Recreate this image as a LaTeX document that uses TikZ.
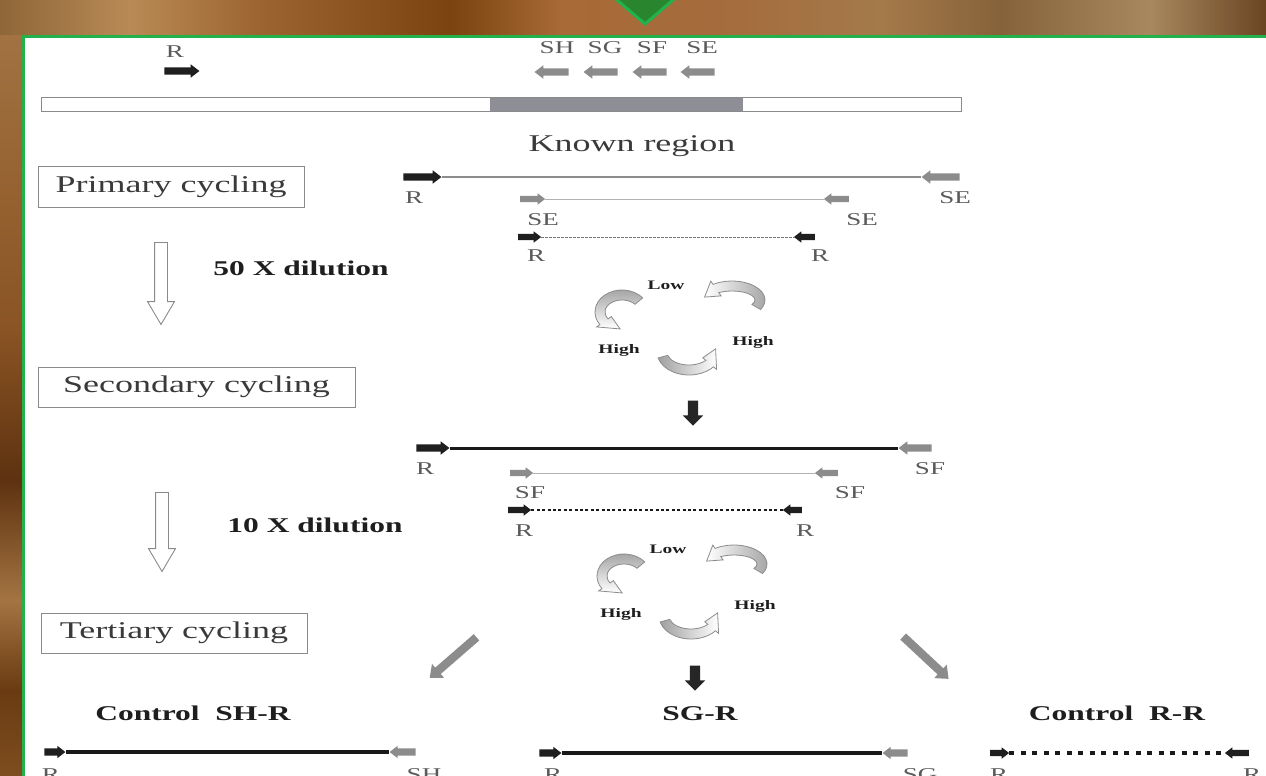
\documentclass[tikz,border=0pt]{standalone}
\usepackage{fontspec}
\setmainfont{Liberation Serif}[FakeStretch=1.5]
\usetikzlibrary{shapes.arrows,calc}

\definecolor{framegreen}{HTML}{22B24C}
\definecolor{tabgreen}{HTML}{2A862E}
\definecolor{primergray}{HTML}{8C8C8C}
\definecolor{tailgray}{HTML}{A0A0A0}
\definecolor{labelgray}{HTML}{5A5A5A}
\definecolor{inkdark}{HTML}{1E1E1E}
\definecolor{boxink}{HTML}{3A3A3A}
\definecolor{boxline}{HTML}{8A8A8A}
\definecolor{regiongray}{HTML}{8E8E97}

\tikzset{
  primer/.style={single arrow, draw=none, inner xsep=0pt, inner ysep=3.5pt, minimum width=13pt,
    single arrow head extend=3pt, single arrow tip angle=75},
  smallprimer/.style={primer, inner ysep=3pt, minimum width=11pt, single arrow head extend=2.5pt},
  heavyprimer/.style={primer, inner ysep=3.5pt, minimum width=12pt, single arrow head extend=2.5pt},
  kprimer/.style={fill=black!88},
  gprimer/.style={fill=primergray},
  toleft/.style={rotate=180},
  lbl/.style={font=\fontsize{18}{20}\selectfont, text=labelgray, inner sep=0pt, anchor=base},
  cycbox/.style={draw=boxline, line width=0.9pt, inner sep=0pt,
    font=\fontsize{24}{28}\selectfont, text=boxink},
  boldlbl/.style={font=\bfseries\fontsize{21}{24}\selectfont, text=inkdark, inner sep=0pt, anchor=base},
  phase/.style={font=\bfseries\fontsize{13}{14}\selectfont, text=inkdark, inner sep=0pt, anchor=base},
  hollowdown/.style={single arrow, draw=boxline, fill=white, line width=0.9pt, inner xsep=0pt,
    inner ysep=6pt, rotate=-90, minimum height=82pt, minimum width=26pt,
    single arrow head extend=7pt, single arrow tip angle=61},
  blackdown/.style={single arrow, fill=black!85, inner xsep=0pt, inner ysep=5pt, rotate=-90,
    minimum height=25pt, minimum width=20pt, single arrow head extend=5pt, single arrow tip angle=90},
  branch/.style={single arrow, fill=primergray, inner xsep=0pt, inner ysep=4pt, minimum height=62pt,
    minimum width=18pt, single arrow head extend=5pt, single arrow tip angle=80},
  dnathin/.style={draw=black!45, line width=1.2pt},
  dnafaint/.style={draw=black!30, line width=1pt},
  dnadash/.style={draw=black!55, line width=1pt, dash pattern=on 2.5pt off 1.5pt},
  dnabold/.style={draw=black!90, line width=3pt},
  dnadot/.style={draw=black!90, line width=1.8pt, dash pattern=on 3pt off 2.4pt},
  dnaheavy/.style={draw=black!90, line width=4.5pt},
  dnaheavydot/.style={draw=black!90, line width=4.5pt, dash pattern=on 5pt off 6.5pt},
  turn/.style={draw=black!45, line width=0.8pt},
}

% curved block arrow on an ellipse: centre x, centre y, x radius, y radius,
% tail angle, head-base angle, tip angle, fill options
\newcommand{\bentarrow}[8]{%
  \pgfmathsetmacro{\bxo}{#3+5}\pgfmathsetmacro{\byo}{#4+5}%
  \pgfmathsetmacro{\bxi}{#3-5}\pgfmathsetmacro{\byi}{#4-5}%
  \pgfmathsetmacro{\bxh}{#3+9}\pgfmathsetmacro{\byh}{#4+9}%
  \pgfmathsetmacro{\bxk}{#3-9}\pgfmathsetmacro{\byk}{#4-9}%
  \path[turn,#8] ($(#1,#2)+(#5:{\bxo} and {\byo})$)
    arc[start angle=#5, end angle=#6, x radius=\bxo, y radius=\byo]
    -- ($(#1,#2)+(#6:{\bxh} and {\byh})$)
    -- ($(#1,#2)+(#7:{#3} and {#4})$)
    -- ($(#1,#2)+(#6:{\bxk} and {\byk})$)
    -- ($(#1,#2)+(#6:{\bxi} and {\byi})$)
    arc[start angle=#6, end angle=#5, x radius=\bxi, y radius=\byi]
    -- cycle;
}

% Low/High temperature cycle with three bent arrows
\newcommand{\reactioncycle}[1]{%
  \bentarrow{622}{312}{22}{17}{-40}{-215}{-265}{top color=tailgray, bottom color=white}
  \bentarrow{732}{300}{28}{14}{30}{-125}{-168}{left color=white, right color=tailgray}
  \bentarrow{689}{352}{27}{18}{165}{40}{-10}{left color=tailgray, right color=white}
  \node[phase] (low#1) at (666,289) {Low};
  \node[phase] (highL#1) at (619,353) {High};
  \node[phase] (highR#1) at (753,345) {High};
}

\begin{document}
\begin{tikzpicture}[x=1pt,y=-1pt]
\useasboundingbox (0,0) rectangle (1266,776);
\clip (0,0) rectangle (1266,776);

% wooden backdrop
\fill[brown!70!black] (0,0) rectangle (1266,776);
\shade[left color={rgb,255:red,142;green,102;blue,56}, right color={rgb,255:red,185;green,138;blue,85}] (0,0) rectangle (130.5,37);
\shade[left color={rgb,255:red,185;green,138;blue,85}, right color={rgb,255:red,155;green,100;blue,48}] (130,0) rectangle (260.5,37);
\shade[left color={rgb,255:red,155;green,100;blue,48}, right color={rgb,255:red,122;green,67;blue,15}] (260,0) rectangle (450.5,37);
\shade[left color={rgb,255:red,122;green,67;blue,15}, right color={rgb,255:red,168;green,106;blue,54}] (450,0) rectangle (560.5,37);
\shade[left color={rgb,255:red,168;green,106;blue,54}, right color={rgb,255:red,165;green,107;blue,60}] (560,0) rectangle (720.5,37);
\shade[left color={rgb,255:red,165;green,107;blue,60}, right color={rgb,255:red,164;green,122;blue,74}] (720,0) rectangle (880.5,37);
\shade[left color={rgb,255:red,164;green,122;blue,74}, right color={rgb,255:red,134;green,98;blue,58}] (880,0) rectangle (1000.5,37);
\shade[left color={rgb,255:red,134;green,98;blue,58}, right color={rgb,255:red,168;green,136;blue,95}] (1000,0) rectangle (1150.5,37);
\shade[left color={rgb,255:red,168;green,136;blue,95}, right color={rgb,255:red,106;green,69;blue,34}] (1150,0) rectangle (1266,37);
\shade[top color={rgb,255:red,162;green,114;blue,66}, bottom color={rgb,255:red,148;green,97;blue,47}] (0,36) rectangle (24,200.5);
\shade[top color={rgb,255:red,148;green,97;blue,47}, bottom color={rgb,255:red,138;green,84;blue,36}] (0,200) rectangle (24,330.5);
\shade[top color={rgb,255:red,138;green,84;blue,36}, bottom color={rgb,255:red,94;green,50;blue,16}] (0,330) rectangle (24,480.5);
\shade[top color={rgb,255:red,94;green,50;blue,16}, bottom color={rgb,255:red,164;green,116;blue,66}] (0,480) rectangle (24,600.5);
\shade[top color={rgb,255:red,164;green,116;blue,66}, bottom color={rgb,255:red,106;green,58;blue,18}] (0,600) rectangle (24,690.5);
\shade[top color={rgb,255:red,106;green,58;blue,18}, bottom color={rgb,255:red,126;green,78;blue,32}] (0,690) rectangle (24,776);

% green tab and white panel
\filldraw[fill=tabgreen, draw=framegreen, line width=3pt, line join=miter] (610,-6) -- (680,-6) -- (645,24) -- cycle;
\filldraw[fill=white, draw=framegreen, line width=3pt] (23,36.5) rectangle (1280,790);

% genomic map with primers
\draw[boxline, fill=white, line width=0.9pt] (41,97) rectangle (961,111);
\fill[regiongray] (490,97.5) rectangle (743,110.5);
\node[primer, kprimer, minimum height=35pt] (topR) at (179.5,71) {};
\node[primer, gprimer, toleft, minimum height=34pt] (topSH) at (554,72) {};
\node[primer, gprimer, toleft, minimum height=34pt] (topSG) at (603,72) {};
\node[primer, gprimer, toleft, minimum height=34pt] (topSF) at (652,72) {};
\node[primer, gprimer, toleft, minimum height=34pt] (topSE) at (700,72) {};
\node[lbl] (labR) at (175,58) {R};
\node[lbl] (labSH) at (557,54) {SH};
\node[lbl] (labSG) at (605,54) {SG};
\node[lbl] (labSF) at (652,54) {SF};
\node[lbl] (labSE) at (702,54) {SE};
\node[font=\fontsize{24}{28}\selectfont, text=boxink, inner sep=0pt, anchor=base] (known) at (632,151) {Known region};

% stage boxes and dilution steps
\node[cycbox, minimum width=266pt, minimum height=41pt] (primary) at (171,186.5) {Primary cycling};
\node[cycbox, minimum width=317pt, minimum height=40pt] (secondary) at (196.5,387) {Secondary cycling};
\node[cycbox, minimum width=266pt, minimum height=40pt] (tertiary) at (174,633) {Tertiary cycling};
\node[hollowdown] (dil1) at (161,278) {};
\node[hollowdown, minimum height=79pt] (dil2) at (162,526.5) {};
\node[boldlbl] (dil1txt) at (301,275) {50 X dilution};
\node[boldlbl] (dil2txt) at (315,532) {10 X dilution};

% primary cycling products
\node[primer, kprimer, minimum height=38pt] (p1R) at (420,177) {};
\node[primer, gprimer, toleft, minimum height=38pt] (p1SE) at (943,177) {};
\node[smallprimer, gprimer, minimum height=25pt] (p2SEa) at (530.5,199) {};
\node[smallprimer, gprimer, toleft, minimum height=25pt] (p2SEb) at (838.5,199) {};
\node[smallprimer, kprimer, minimum height=23pt] (p3Ra) at (527.5,237) {};
\node[smallprimer, kprimer, toleft, minimum height=21pt] (p3Rb) at (806.5,237) {};
\draw[dnathin] (p1R.tip) -- (p1SE.tip);
\draw[dnafaint] (p2SEa.tip) -- (p2SEb.tip);
\draw[dnadash] (p3Ra.tip) -- (p3Rb.tip);
\node[lbl] (p1Rl) at (414,203) {R};
\node[lbl] (p1SEl) at (955,203) {SE};
\node[lbl] (p2SEal) at (543,225) {SE};
\node[lbl] (p2SEbl) at (862,225) {SE};
\node[lbl] (p3Ral) at (536,261) {R};
\node[lbl] (p3Rbl) at (820,261) {R};

% first temperature cycle
\reactioncycle{A}
\node[blackdown] (downA) at (693,410.5) {};

% secondary cycling products
\node[primer, kprimer, minimum height=33pt] (s1R) at (430.5,448) {};
\node[primer, gprimer, toleft, minimum height=33pt] (s1SF) at (917.5,448) {};
\node[smallprimer, gprimer, minimum height=23pt] (s2SFa) at (519.5,473) {};
\node[smallprimer, gprimer, toleft, minimum height=23pt] (s2SFb) at (828.5,473) {};
\node[smallprimer, kprimer, minimum height=23pt] (s3Ra) at (517.5,510) {};
\node[smallprimer, kprimer, toleft, minimum height=19pt] (s3Rb) at (794.5,510) {};
\draw[dnabold] (s1R.tip) -- (s1SF.tip);
\draw[dnafaint] (s2SFa.tip) -- (s2SFb.tip);
\draw[dnadot] (s3Ra.tip) -- (s3Rb.tip);
\node[lbl] (s1Rl) at (425,474) {R};
\node[lbl] (s1SFl) at (930,474) {SF};
\node[lbl] (s2SFal) at (530,498) {SF};
\node[lbl] (s2SFbl) at (850,498) {SF};
\node[lbl] (s3Ral) at (524,536) {R};
\node[lbl] (s3Rbl) at (805,536) {R};

% second temperature cycle
\begin{scope}[shift={(2,264)}]
\reactioncycle{B}
\end{scope}
\node[blackdown] (downB) at (695,675.5) {};
\node[branch, rotate=221] (branchL) at (455,656) {};
\node[branch, rotate=-43] (branchR) at (924,656) {};

% tertiary cycling products
\node[boldlbl] (ctrlSH) at (193,720) {Control\ \ SH-R};
\node[boldlbl] (mainSG) at (700,720) {SG-R};
\node[boldlbl] (ctrlRR) at (1117,720) {Control\ \ R-R};
\node[heavyprimer, kprimer, minimum height=21pt] (t1R) at (52.5,752) {};
\node[heavyprimer, gprimer, toleft, minimum height=26pt] (t1SH) at (405,752) {};
\node[heavyprimer, kprimer, minimum height=22pt] (t2R) at (548,753) {};
\node[heavyprimer, gprimer, toleft, minimum height=25pt] (t2SG) at (897.5,753) {};
\node[smallprimer, kprimer, minimum height=19pt] (t3Ra) at (997.5,753) {};
\node[smallprimer, kprimer, toleft, minimum height=24pt] (t3Rb) at (1239,753) {};
\draw[dnaheavy] (t1R.tip) -- (t1SH.tip);
\draw[dnaheavy] (t2R.tip) -- (t2SG.tip);
\draw[dnaheavydot] (t3Ra.tip) -- (t3Rb.tip);
\node[lbl] (t1Rl) at (51,780) {R};
\node[lbl] (t1SHl) at (424,780) {SH};
\node[lbl] (t2Rl) at (553,780) {R};
\node[lbl] (t2SGl) at (920,780) {SG};
\node[lbl] (t3Ral) at (999,780) {R};
\node[lbl] (t3Rbl) at (1252,780) {R};
\end{tikzpicture}
\end{document}
